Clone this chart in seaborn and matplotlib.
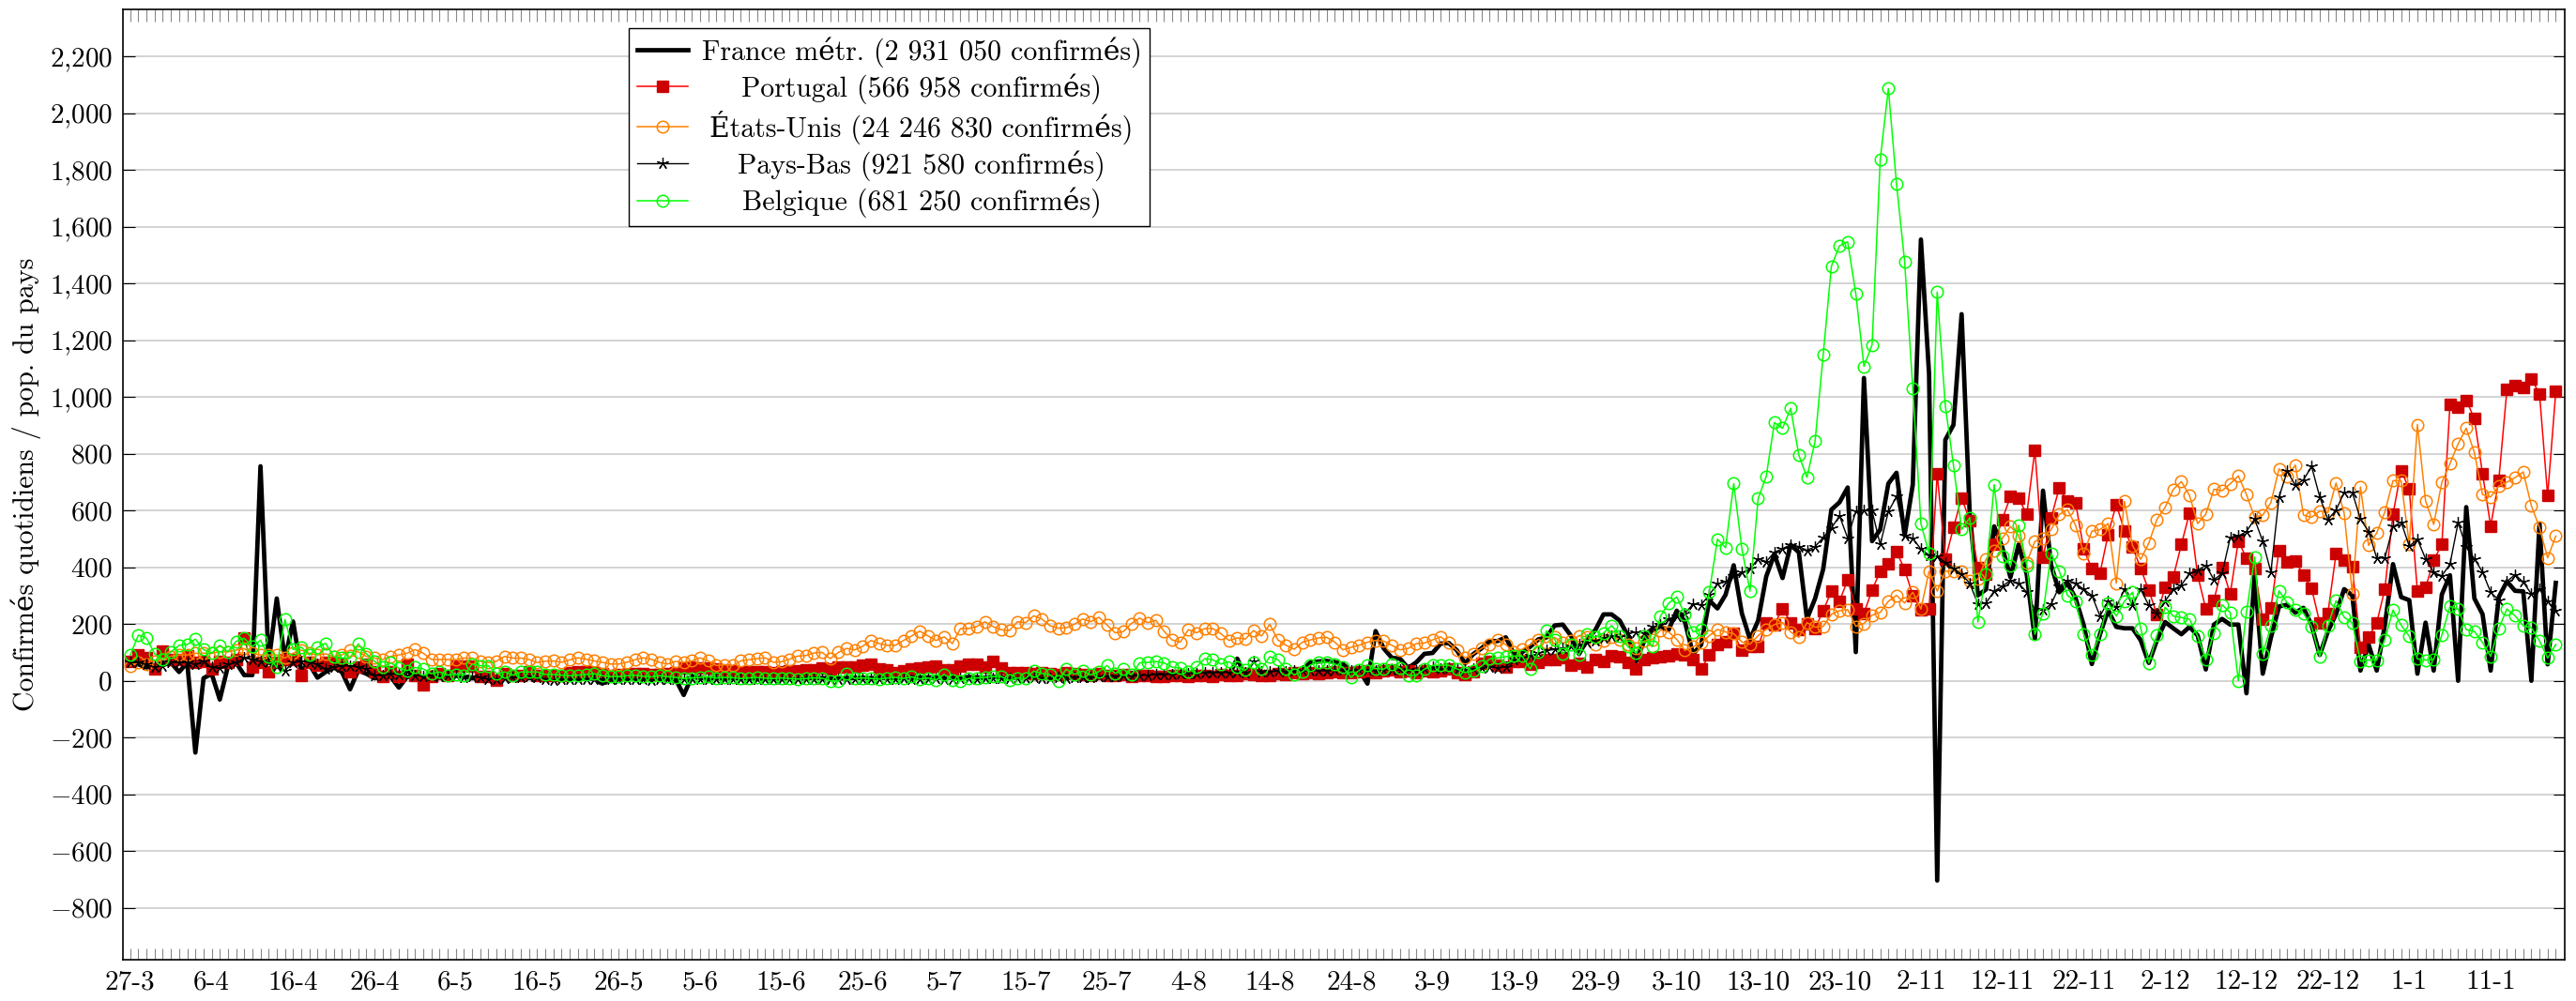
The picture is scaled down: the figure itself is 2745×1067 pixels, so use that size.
import numpy as np
import pandas as pd
import seaborn as sns
import matplotlib.pyplot as plt
from matplotlib.ticker import FuncFormatter

# jours depuis le 27-3 (0 .. 298)
start = pd.Timestamp("2020-03-27")

france = [
    64, 58, 47, 53, 64, 64, 31, 64, -253, 9,
    25, -66, 51, 64, 20, 20, 756, 64, 290, 75,
    209, 36, 58, 11, 31, 47, 31, -30, 36, 25,
    9, 14, 14, -24, 14, 14, 9, 7, 11, 14,
    18, 14, 9, 12, 10, 8, 9, 11, 8, 10,
    7, 9, 6, 5, 8, 6, 9, 7, -10, 5,
    8, 6, 10, 7, 9, 6, 8, 5, -50, 15,
    10, 8, 9, 7, 10, 8, 9, 7, 8, 9,
    8, 10, 9, 8, 11, 9, 10, 8, 9, 10,
    11, 9, 10, 12, 10, 11, 13, 10, 12, 11,
    10, 12, 11, 13, 12, 10, 14, 12, 10, 11,
    13, 12, 10, 14, 11, 9, 12, 13, 11, 10,
    12, 14, 11, 13, 15, 12, 14, 16, 13, 15,
    17, 14, 16, 15, 18, 20, 78, 18, 22, 20,
    28, 30, 25, 32, 38, 65, 68, 70, 66, 59,
    34, 37, -10, 175, 114, 81, 78, 45, 65, 95,
    98, 131, 133, 107, 61, 94, 114, 140, 140, 153,
    94, 101, 120, 146, 153, 195, 198, 159, 94, 146,
    179, 234, 234, 212, 159, 68, 140, 179, 192, 179,
    247, 208, 94, 127, 283, 255, 303, 407, 238, 146,
    212, 368, 446, 362, 479, 453, 218, 290, 394, 603,
    629, 681, 101, 1067, 492, 533, 695, 733, 512, 691,
    1555, 1081, -704, 849, 902, 1292, 586, 301, 322, 544,
    470, 365, 480, 375, 148, 670, 407, 312, 344, 291,
    196, 59, 164, 249, 190, 185, 185, 143, 63, 143,
    207, 185, 164, 190, 160, 40, 198, 218, 198, 198,
    -44, 372, 25, 152, 262, 268, 240, 257, 196, 91,
    174, 235, 323, 301, 36, 128, 36, 196, 411, 295,
    284, 25, 205, 36, 304, 372, 0, 612, 290, 235,
    36, 295, 350, 317, 315, 0, 554, 58, 345,
]

portugal = [
    69, 91, 80, 42, 106, 75, 75, 88, 64, 69,
    42, 69, 64, 75, 150, 47, 64, 33, 64, 75,
    75, 18, 64, 55, 64, 64, 58, 33, 47, 58,
    31, 14, 31, 14, 58, 20, -15, 14, 25, 20,
    53, 53, 53, 14, 14, 3, 25, 20, 20, 31,
    20, 20, 20, 20, 30, 32, 33, 30, 25, 20,
    22, 21, 25, 24, 23, 22, 25, 28, 45, 48,
    46, 44, 42, 40, 35, 30, 32, 33, 31, 30,
    32, 34, 36, 38, 40, 45, 42, 50, 48, 47,
    56, 58, 42, 38, 30, 36, 42, 46, 48, 52,
    40, 38, 52, 59, 58, 48, 67, 45, 30, 28,
    30, 25, 28, 26, 22, 28, 25, 22, 20, 24,
    20, 18, 22, 15, 18, 20, 16, 14, 18, 20,
    15, 18, 20, 16, 22, 18, 20, 25, 22, 18,
    20, 24, 22, 28, 25, 30, 26, 28, 32, 30,
    28, 32, 35, 30, 34, 38, 32, 36, 30, 34,
    32, 35, 42, 29, 22, 33, 61, 68, 55, 48,
    68, 68, 58, 64, 74, 74, 81, 55, 61, 48,
    74, 68, 87, 85, 64, 42, 74, 81, 85, 87,
    94, 90, 74, 42, 90, 127, 137, 166, 107, 120,
    120, 205, 198, 255, 205, 181, 202, 185, 247, 316,
    281, 355, 255, 238, 320, 386, 413, 455, 392, 301,
    249, 253, 729, 428, 540, 645, 565, 400, 375, 480,
    569, 649, 645, 586, 813, 434, 573, 681, 632, 628,
    464, 396, 379, 516, 622, 529, 472, 396, 318, 234,
    329, 365, 480, 592, 372, 253, 284, 400, 306, 493,
    431, 394, 216, 257, 460, 420, 422, 372, 325, 205,
    238, 447, 427, 403, 119, 154, 204, 323, 587, 741,
    675, 315, 328, 425, 480, 975, 965, 989, 923, 730,
    545, 708, 1027, 1039, 1035, 1064, 1011, 653, 1019,
]

etats_unis = [
    53, 64, 58, 69, 75, 86, 91, 91, 97, 97,
    97, 102, 102, 108, 113, 97, 91, 91, 91, 80,
    97, 108, 97, 91, 95, 86, 91, 108, 102, 86,
    80, 75, 86, 91, 97, 110, 97, 75, 75, 75,
    75, 80, 80, 69, 64, 69, 86, 80, 80, 75,
    64, 69, 70, 65, 74, 81, 76, 70, 65, 59,
    59, 65, 74, 81, 76, 65, 59, 68, 65, 70,
    81, 70, 54, 56, 54, 70, 74, 78, 81, 65,
    67, 76, 87, 89, 98, 100, 78, 100, 114, 109,
    122, 142, 131, 125, 125, 142, 158, 175, 158, 142,
    155, 131, 184, 184, 191, 208, 191, 180, 177, 208,
    205, 229, 218, 194, 185, 187, 199, 218, 208, 224,
    197, 169, 173, 202, 221, 205, 213, 175, 144, 136,
    180, 169, 184, 184, 166, 142, 151, 147, 177, 158,
    199, 144, 125, 111, 136, 144, 151, 153, 136, 109,
    118, 125, 136, 142, 140, 125, 109, 114, 131, 133,
    144, 155, 133, 107, 81, 94, 114, 127, 146, 127,
    103, 111, 127, 146, 133, 153, 133, 140, 159, 155,
    129, 140, 155, 146, 129, 114, 140, 146, 179, 172,
    146, 107, 120, 133, 159, 181, 172, 166, 137, 129,
    159, 181, 198, 205, 172, 153, 205, 189, 192, 234,
    247, 251, 192, 202, 231, 241, 280, 301, 274, 312,
    253, 386, 316, 386, 386, 386, 354, 358, 428, 459,
    502, 544, 512, 417, 491, 502, 533, 586, 603, 548,
    449, 527, 533, 554, 344, 632, 476, 428, 485, 569,
    611, 674, 702, 653, 554, 587, 675, 670, 694, 722,
    656, 576, 584, 628, 747, 719, 760, 584, 576, 598,
    592, 697, 590, 308, 683, 477, 521, 595, 705, 705,
    480, 903, 634, 551, 699, 765, 835, 890, 804, 656,
    648, 686, 700, 716, 736, 617, 540, 433, 510,
]

pays_bas = [
    64, 64, 58, 47, 53, 64, 64, 64, 58, 69,
    47, 44, 58, 64, 80, 75, 69, 64, 53, 36,
    64, 69, 64, 58, 42, 47, 53, 53, 47, 42,
    20, 18, 25, 22, 31, 20, 14, 20, 14, 18,
    20, 11, 14, 11, 7, 7, 9, 11, 11, 14,
    11, 7, 3, 7, 6, 5, 7, 4, 5, 6,
    5, 4, 6, 5, 3, 4, 6, 5, 4, 8,
    5, 4, 6, 5, 7, 4, 5, 6, 4, 5,
    6, 5, 4, 6, 5, 7, 5, 6, 4, 5,
    6, 5, 7, 6, 5, 8, 6, 7, 5, 8,
    7, 6, 8, 9, 7, 8, 10, 9, 8, 10,
    9, 11, 10, 8, 12, 10, 11, 13, 12, 14,
    16, 15, 18, 17, 19, 20, 22, 21, 23, 25,
    24, 26, 28, 27, 30, 29, 32, 30, 67, 33,
    32, 34, 33, 36, 35, 34, 36, 35, 38, 37,
    36, 38, 37, 35, 38, 40, 37, 39, 36, 41,
    48, 42, 45, 40, 38, 42, 45, 48, 46, 50,
    74, 80, 87, 97, 107, 110, 114, 120, 127, 133,
    140, 150, 159, 153, 166, 172, 168, 189, 198, 218,
    228, 238, 270, 268, 303, 342, 349, 368, 381, 394,
    430, 420, 453, 466, 479, 473, 460, 473, 505, 538,
    581, 503, 597, 599, 599, 480, 596, 649, 512, 502,
    464, 443, 438, 417, 396, 375, 344, 270, 274, 316,
    333, 354, 344, 312, 249, 249, 270, 333, 354, 344,
    322, 301, 228, 280, 259, 322, 266, 322, 266, 238,
    280, 322, 337, 379, 389, 407, 356, 378, 504, 510,
    526, 570, 491, 383, 648, 738, 689, 708, 755, 648,
    568, 601, 664, 664, 570, 526, 433, 433, 543, 559,
    474, 499, 430, 381, 370, 411, 557, 471, 430, 383,
    312, 284, 350, 374, 348, 306, 323, 279, 246,
]

belgique = [
    91, 161, 150, 95, 75, 102, 125, 128, 147, 110,
    97, 125, 102, 139, 150, 121, 143, 86, 47, 216,
    110, 119, 91, 117, 132, 84, 80, 80, 130, 95,
    69, 47, 64, 44, 36, 47, 42, 25, 31, 20,
    22, 20, 58, 53, 53, 25, 31, 20, 31, 31,
    31, 22, 22, 20, 18, 20, 22, 25, 18, 15,
    15, 18, 20, 16, 14, 18, 15, 12, 8, 10,
    12, 14, 10, 12, 11, 8, 10, 12, 9, 8,
    10, 8, 6, 8, 10, 9, 0, -2, 26, 8,
    10, 8, 6, 10, 12, 8, 14, 6, 10, 3,
    23, 3, 0, 8, 10, 12, 15, 15, 1, 10,
    8, 34, 26, 21, 0, 41, 23, 34, 21, 32,
    54, 26, 41, 21, 63, 65, 68, 63, 48, 45,
    32, 48, 78, 74, 59, 67, 48, 37, 65, 43,
    85, 74, 41, 21, 32, 56, 65, 65, 59, 48,
    12, 37, 56, 43, 41, 59, 45, 19, 19, 41,
    54, 55, 55, 42, 29, 35, 51, 77, 81, 85,
    87, 87, 42, 103, 176, 146, 94, 127, 90, 163,
    153, 168, 195, 159, 120, 98, 159, 120, 228, 273,
    296, 234, 172, 181, 312, 499, 469, 695, 466, 316,
    642, 721, 910, 890, 960, 795, 717, 845, 1151, 1461,
    1533, 1547, 1364, 1108, 1184, 1837, 2087, 1751, 1477, 1030,
    554, 449, 1370, 969, 759, 533, 575, 207, 375, 691,
    438, 407, 548, 407, 164, 238, 449, 386, 301, 280,
    164, 91, 164, 274, 228, 280, 312, 185, 63, 160,
    259, 228, 223, 217, 157, 75, 168, 268, 240, 0,
    242, 436, 95, 193, 317, 275, 251, 238, 191, 86,
    194, 282, 224, 204, 69, 73, 73, 146, 249, 196,
    157, 77, 73, 75, 161, 262, 253, 180, 174, 135,
    86, 185, 253, 229, 194, 187, 141, 80, 128,
]

labels = [
    "France métr. (2 931 050 confirmés)",
    "Portugal (566 958 confirmés)",
    "États-Unis (24 246 830 confirmés)",
    "Pays-Bas (921 580 confirmés)",
    "Belgique (681 250 confirmés)",
]

days = np.arange(len(france))
dates = start + pd.to_timedelta(days, unit="D")
tick_labels = [f"{d.day}-{d.month}" if i % 10 == 0 else "" for i, d in enumerate(dates)]

plt.rcParams["font.family"] = ["cmr10", "DejaVu Serif"]
plt.rcParams["mathtext.fontset"] = "cm"
plt.rcParams["axes.formatter.use_mathtext"] = True

fig = plt.figure(figsize=(27.45, 10.67), dpi=100)
ax = fig.add_axes([131 / 2745, 1 - 1023 / 1067, 2602 / 2745, 1013 / 1067])

styles = [
    dict(color="black", linewidth=3.4, marker=None),
    dict(color="#ff0000", linewidth=1.1, marker="s", markersize=9,
         markerfacecolor="#cc0000", markeredgecolor="#cc0000", markeredgewidth=1),
    dict(color="#ff8000", linewidth=1.1, marker="o", markersize=9,
         markerfacecolor="none", markeredgecolor="#ff8000", markeredgewidth=1.1),
    dict(color="black", linewidth=1.0, marker=(5, 2, 0), markersize=9,
         markeredgecolor="black", markeredgewidth=0.9),
    dict(color="#00ff00", linewidth=1.1, marker="o", markersize=9,
         markerfacecolor="none", markeredgecolor="#00ff00", markeredgewidth=1.1),
]

for values, label, st in zip([france, portugal, etats_unis, pays_bas, belgique], labels, styles):
    sns.lineplot(x=days, y=values, ax=ax, label=label, **st)

ax.set_xlim(-0.9, len(days) + 0.1)
ax.set_ylim(-983, 2366)

ax.set_xticks(days)
ax.set_xticklabels(tick_labels)
ax.set_yticks(range(-800, 2201, 200))
ax.yaxis.set_major_formatter(FuncFormatter(lambda v, _: f"${int(v):,}$".replace(",", "{,}")))

ax.tick_params(axis="x", which="major", direction="in", length=9, width=0.8,
               color="#888888", top=True, labelsize=21, pad=8)
ax.tick_params(axis="y", which="major", direction="in", length=9, width=0.8,
               right=True, labelsize=21, pad=8)

ax.yaxis.grid(True, color="#cccccc", linewidth=1.2)
ax.set_axisbelow(True)
for sp in ax.spines.values():
    sp.set_linewidth(1.2)
    sp.set_color("black")

ax.set_xlabel("")
ax.set_ylabel("Confirmés quotidiens / pop. du pays", fontsize=21.5, labelpad=6)

leg = ax.legend(loc="upper left", bbox_to_anchor=((670 - 131) / 2602, (1023 - 30) / 1013),
                borderaxespad=0, fontsize=21.5, frameon=True, fancybox=False,
                edgecolor="black", framealpha=1, handlelength=1.8, labelspacing=0.22,
                borderpad=0.3, handletextpad=0.5, numpoints=1)
leg.get_frame().set_linewidth(1.0)

# centrer les textes de la légende comme dans pgfplots
fig.canvas.draw()
texts = leg.get_texts()
widths = [t.get_window_extent().width for t in texts]
wmax = max(widths)
for t, w in zip(texts, widths):
    t.set_x((wmax - w) / 2)

fig.savefig("out.png", dpi=100)
